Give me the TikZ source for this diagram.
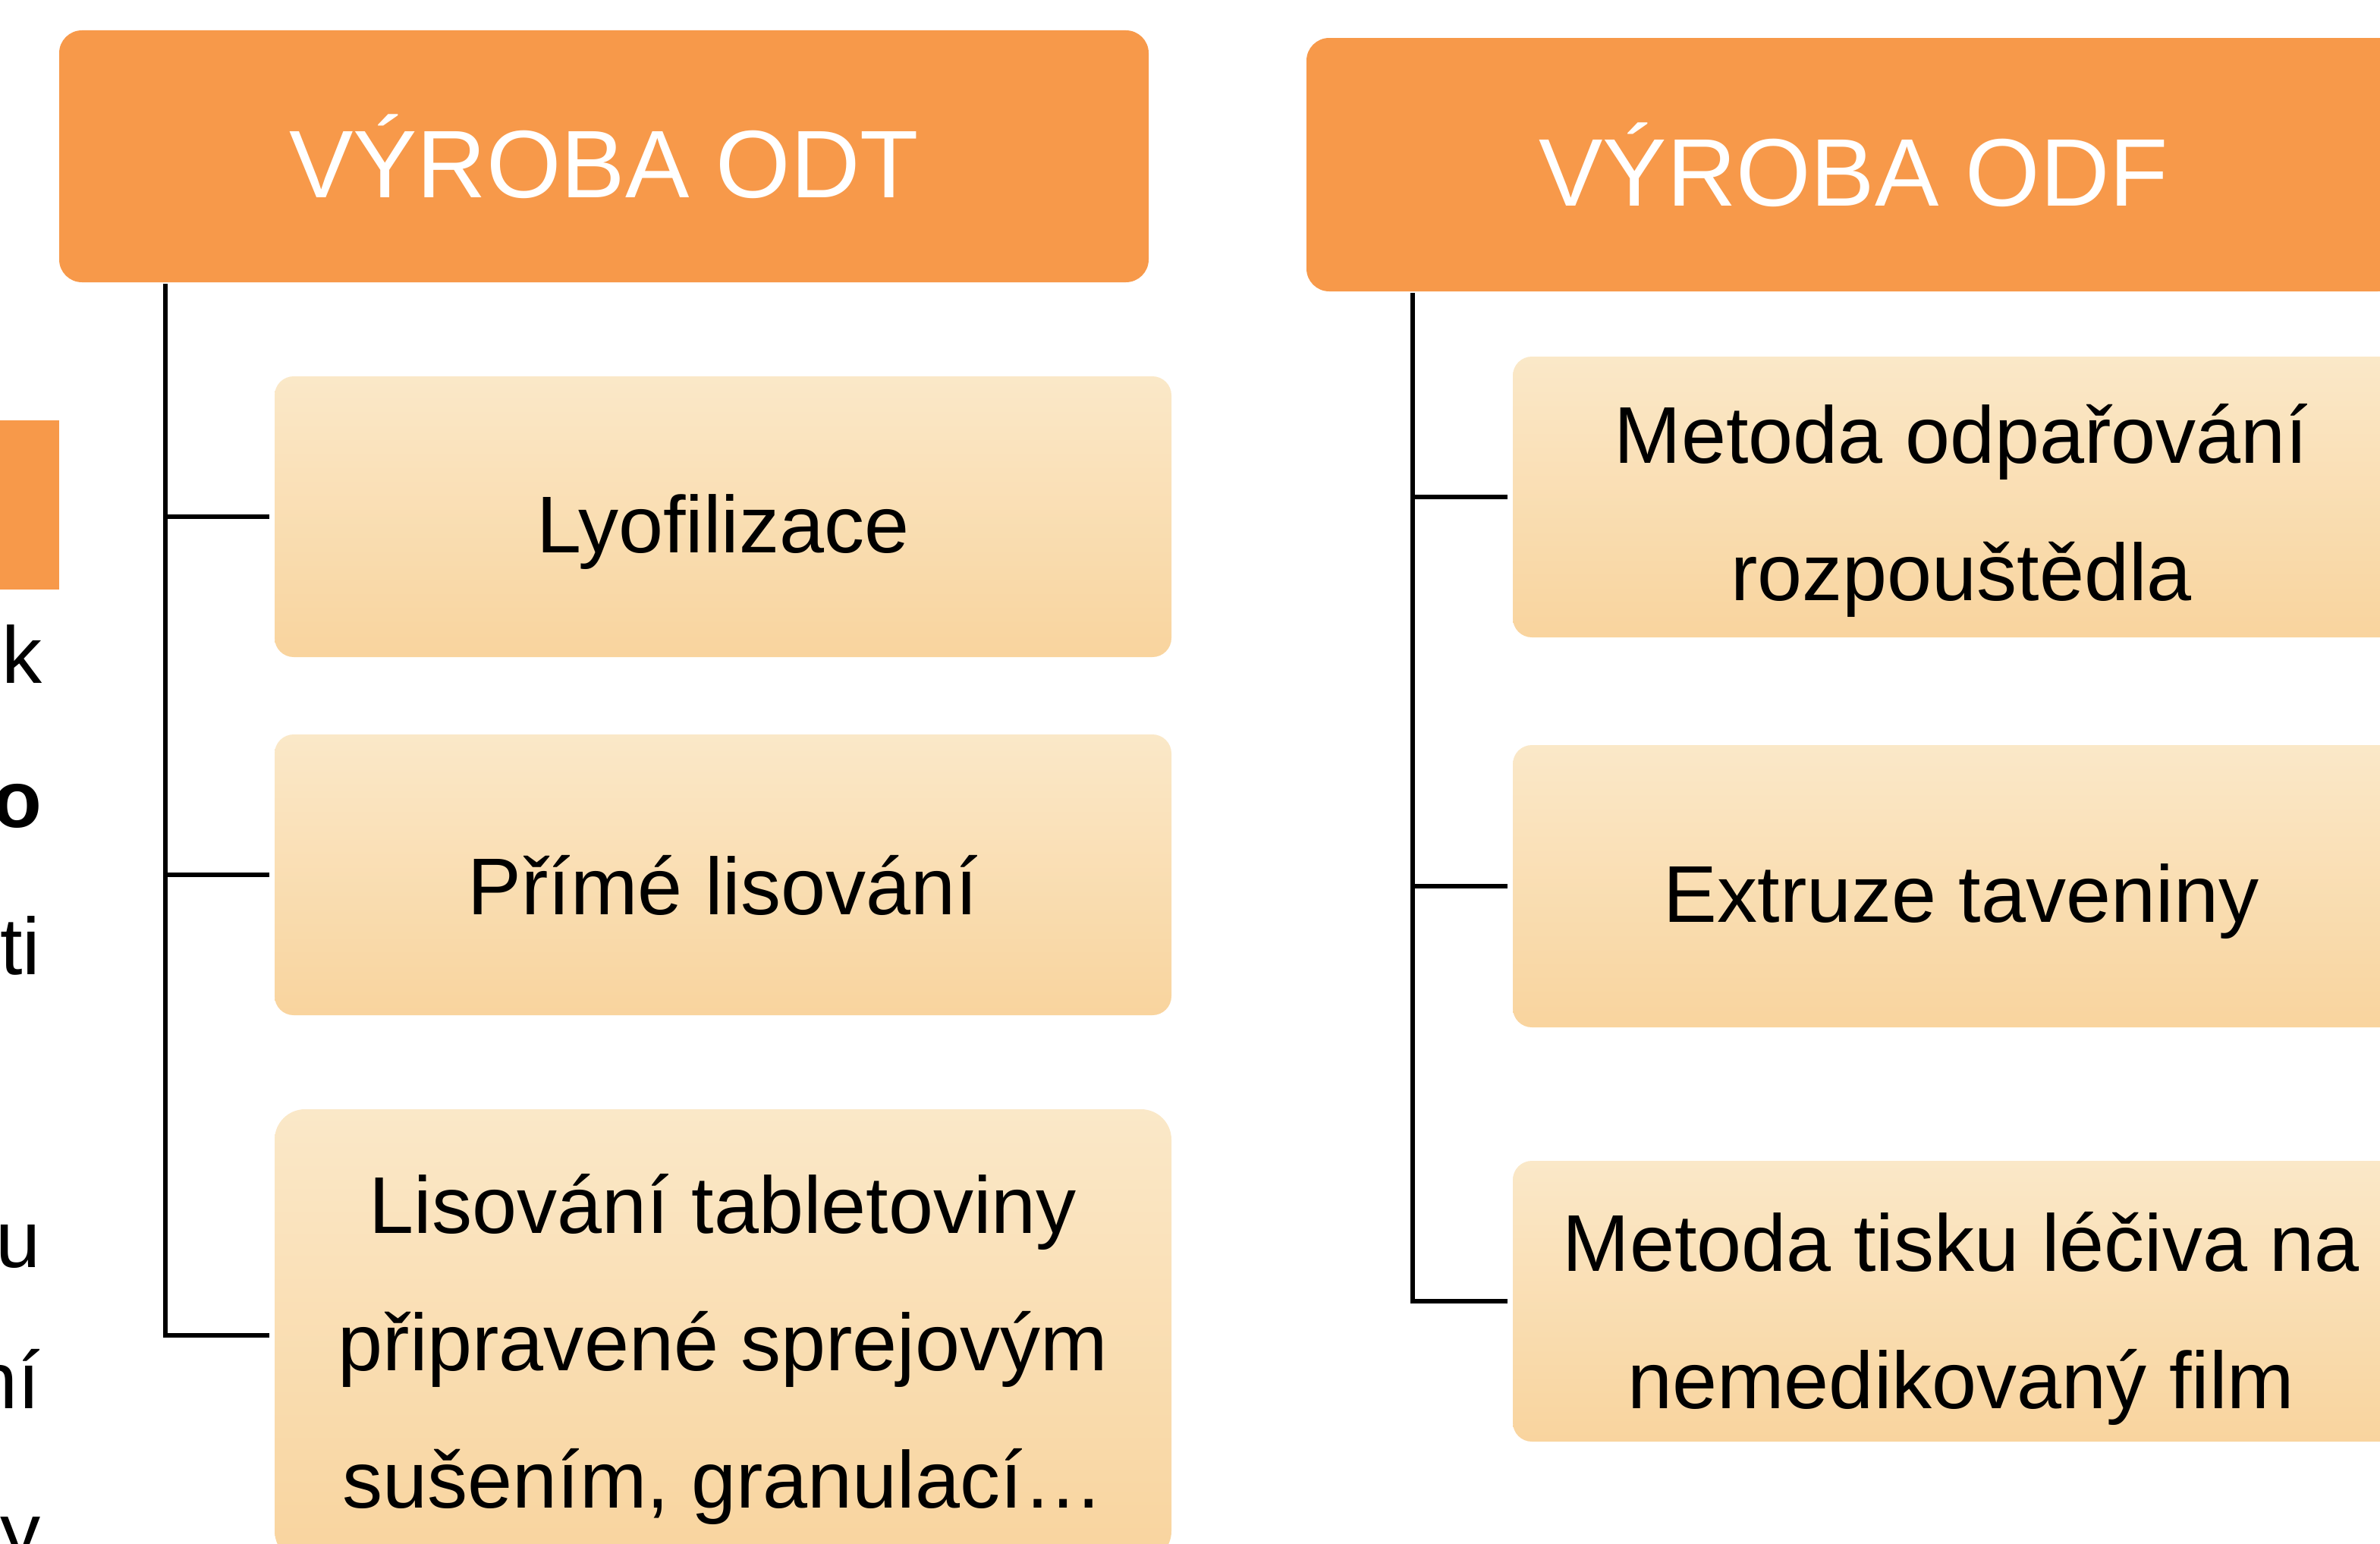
\documentclass[tikz,border=0pt]{standalone}
\usepackage{fontspec}
\setmainfont{Liberation Sans}
\definecolor{hdr}{HTML}{F7994A}
\definecolor{ctop}{HTML}{FAE8C8}
\definecolor{cbot}{HTML}{F9D49E}
\tikzset{
  hdrbox/.style={fill=hdr, draw=none, rounded corners=0.3cm, text=white,
    font=\fontsize{36}{40}\selectfont, minimum width=14.36cm, minimum height=3.32cm},
  childbox/.style={top color=ctop, bottom color=cbot, draw=none, rounded corners=0.25cm,
    minimum width=11.82cm, minimum height=3.7cm},
  childtext/.style={text=black, font=\fontsize{30.2}{51.5}\selectfont, align=center, inner sep=0pt},
  conn/.style={draw=black, line width=1.6pt},
  frag/.style={anchor=base east, inner sep=0pt, font=\fontsize{30.2}{36}\selectfont}
}
\begin{document}
\begin{tikzpicture}
\useasboundingbox (0,0) rectangle (31.37,-20.35);
\clip (0,0) rectangle (31.37,-20.35);
% left fragments of the neighbouring slide
\fill[hdr] (-0.5,-5.54) rectangle (0.78,-7.77);
\node[frag] (f1) at (0.56,-9.00) {k};
\node[frag, font=\fontsize{30.2}{36}\selectfont\bfseries] (f2) at (0.56,-10.90) {o};
\node[frag] (f3) at (0.54,-12.84) {ti};
\node[frag] (f4) at (0.54,-16.70) {u};
\node[frag] (f5) at (0.54,-18.56) {ní};
\node[frag] (f6) at (0.54,-20.55) {y};
% headers
\node[hdrbox] (lh) at (7.96,-2.06) {VÝROBA ODT};
\node[hdrbox, minimum width=14.42cm, minimum height=3.34cm] (rh) at (24.43,-2.17) {VÝROBA ODF};
% left children
\node[childbox] (l1) at (9.53,-6.81) {};
\node[childtext] (l1t) at ([yshift=-0.2cm]l1.center) {Lyofilizace};
\node[childbox] (l2) at (9.53,-11.53) {};
\node[childtext] (l2t) at ([yshift=-0.14cm]l2.center) {Přímé lisování};
\node[childbox, minimum height=5.96cm, rounded corners=0.4cm] (l3) at (9.53,-17.60) {};
\node[childtext] (l3t) at ([yshift=-0.18cm]l3.center) {Lisování tabletoviny\\připravené sprejovým\\sušením, granulací…};
% right children
\node[childbox] (r1) at (25.85,-6.55) {};
\node[childtext] (r1t) at ([yshift=-0.18cm]r1.center) {Metoda odpařování\\rozpouštědla};
\node[childbox, minimum height=3.72cm] (r2) at (25.85,-11.68) {};
\node[childtext] (r2t) at ([yshift=-0.2cm]r2.center) {Extruze taveniny};
\node[childbox] (r3) at (25.85,-17.15) {};
\node[childtext] (r3t) at ([yshift=-0.23cm]r3.center) {Metoda tisku léčiva na\\nemedikovaný film};
% connectors
\coordinate (spL) at (2.18,-3.74);
\coordinate (spR) at (18.62,-3.86);
\draw[conn] (spL) |- ([xshift=-0.06cm]l3.west);
\draw[conn] (spL |- l1.west) -- ([xshift=-0.06cm]l1.west);
\draw[conn] (spL |- l2.west) -- ([xshift=-0.06cm]l2.west);
\draw[conn] (spR) |- ([xshift=-0.06cm]r3.west);
\draw[conn] (spR |- r1.west) -- ([xshift=-0.06cm]r1.west);
\draw[conn] (spR |- r2.west) -- ([xshift=-0.06cm]r2.west);
\end{tikzpicture}
\end{document}
